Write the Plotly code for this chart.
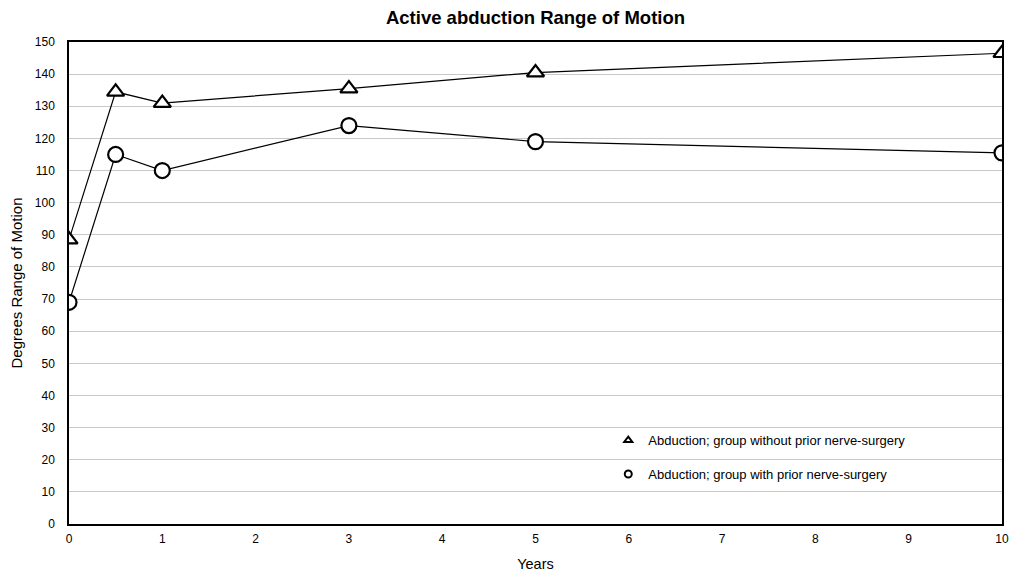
import plotly.graph_objects as go

years = [0, 0.5, 1, 3, 5, 10]
without_prior = [88.5, 134.5, 131, 135.5, 140.5, 146.5]
with_prior = [69, 115, 110, 124, 119, 115.5]
name_without = "Abduction; group without prior nerve-surgery"
name_with = "Abduction; group with prior nerve-surgery"
y_ticks = list(range(0, 151, 10))
x_ticks = list(range(0, 11))

font = "Liberation Sans, Arial, Helvetica, sans-serif"

fig = go.Figure()
fig.add_trace(go.Scatter(x=years, y=without_prior, mode="lines+markers", showlegend=False,
                         line=dict(color="black", width=1.2),
                         marker=dict(symbol="triangle-up", size=15, color="white",
                                     line=dict(color="black", width=2.2))))
fig.add_trace(go.Scatter(x=years, y=with_prior, mode="lines+markers", showlegend=False,
                         line=dict(color="black", width=1.2),
                         marker=dict(symbol="circle", size=15, color="white",
                                     line=dict(color="black", width=2.2))))
# legend entries (markers only)
fig.add_trace(go.Scatter(x=[None], y=[None], mode="markers", name=name_without, legendgroup="a",
                         marker=dict(symbol="triangle-up", size=7, color="white",
                                     line=dict(color="black", width=2))))
fig.add_trace(go.Scatter(x=[None], y=[None], mode="markers", name=name_with, legendgroup="b",
                         marker=dict(symbol="circle", size=7, color="white",
                                     line=dict(color="black", width=2))))

fig.update_layout(
    width=1012, height=572,
    margin=dict(l=69, r=10, t=42, b=48, autoexpand=False),
    paper_bgcolor="white", plot_bgcolor="white",
    font=dict(family=font, size=12, color="black"),
    title=dict(text="<b>Active abduction Range of Motion</b>", x=0.5, xref="paper", xanchor="center",
               y=0.970, yanchor="middle", font=dict(size=18.5, color="black")),
    legend=dict(x=0.578, y=0.205, xanchor="left", yanchor="top", traceorder="grouped",
                tracegroupgap=14, bgcolor="rgba(0,0,0,0)", font=dict(size=13)),
    xaxis=dict(range=[0, 10], tickvals=x_ticks, showgrid=False, showline=True, linecolor="black",
               linewidth=1.5, mirror=True, ticks="", zeroline=False, ticklabelstandoff=3,
               automargin=False,
               title=dict(text="Years", standoff=14, font=dict(size=14.5))),
    yaxis=dict(range=[0, 150], tickvals=y_ticks, showgrid=True, gridcolor="#c8c8c8", gridwidth=1,
               showline=True, linecolor="black", linewidth=1.5, mirror=True, ticks="",
               zeroline=False, ticklabelstandoff=10, automargin=False,
               title=dict(text="Degrees Range of Motion", standoff=9, font=dict(size=15))),
)

fig.write_html("out.html", config={"displayModeBar": False},
               post_script="document.body.style.margin='0';document.body.style.overflow='hidden';")
